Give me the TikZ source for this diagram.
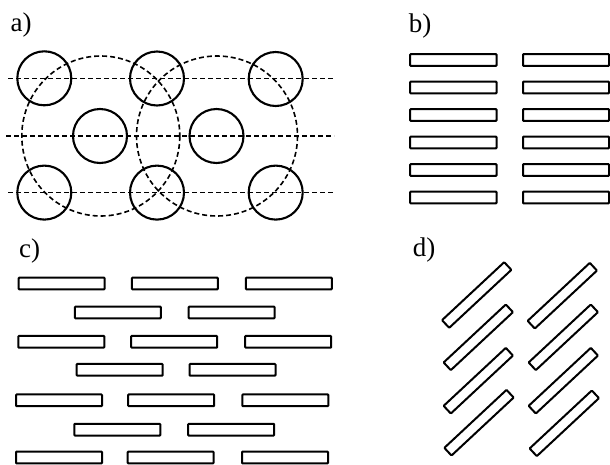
\documentclass[tikz,border=0pt]{standalone}
\usepackage{fontspec}
\setmainfont{Liberation Serif}
\begin{document}
\begin{tikzpicture}[x=1pt,y=-1pt,
  ball/.style={draw,circle,line width=2.1pt,minimum size=54pt,inner sep=0pt},
  guide/.style={line width=1.6pt,dash pattern=on 5pt off 3pt},
  rod/.style={draw,rectangle,line width=2pt,rounded corners=0.8pt,inner sep=0pt,minimum width=86pt,minimum height=11.8pt},
  drod/.style={rod,minimum width=85pt,minimum height=10.5pt,rotate=43},
  lab/.style={font=\fontsize{27}{29}\selectfont,inner sep=0pt}]
\useasboundingbox (0,0) rectangle (610,464);
\clip (0,0) rectangle (610,464);
% labels
\node[lab] (la) at (21,25) {a)};
\node[lab] (lb) at (420,26) {b)};
\node[lab] (lc) at (29.5,251.5) {c)};
\node[lab] (ld) at (424,250) {d)};
% a) dashed guides
\coordinate (h1l) at (8,78.3);  \coordinate (h1r) at (333,78.3);
\coordinate (h2l) at (6,136);   \coordinate (h2r) at (334,136);
\coordinate (h3l) at (8,192.6); \coordinate (h3r) at (333,192.6);
\draw[guide] (h1l) -- (h1r);
\draw[guide] (h2l) -- (h2r);
\draw[guide] (h3l) -- (h3r);
\coordinate (e1) at (100.8,136);
\coordinate (e2) at (217,136);
\draw[guide] (e1) ellipse [x radius=79, y radius=80];
\draw[guide] (e2) ellipse [x radius=80.5, y radius=80];
% a) circles
\node[ball] (a1) at (44.3,78.3) {};
\node[ball] (a2) at (157,78.5) {};
\node[ball] (a3) at (275.7,79) {};
\node[ball] (a4) at (100,136) {};
\node[ball] (a5) at (216.5,136) {};
\node[ball] (a6) at (44.3,192.6) {};
\node[ball] (a7) at (157,192.6) {};
\node[ball] (a8) at (275.7,192.6) {};
% b)
\foreach \i in {0,...,5}{
  \node[rod,minimum width=86.5pt] (bl\i) at (453.3,{60+27.5*\i}) {};
  \node[rod,minimum width=86pt] (br\i) at (566,{60+27.5*\i}) {};
}
% c)
\node[rod] (c11) at (61.7,283.5) {};
\node[rod] (c12) at (174.8,283.5) {};
\node[rod] (c13) at (288.8,283.5) {};
\node[rod] (c21) at (117.8,312.5) {};
\node[rod] (c22) at (231.7,312.5) {};
\node[rod] (c31) at (61.3,341.8) {};
\node[rod] (c32) at (174.2,341.8) {};
\node[rod] (c33) at (288.2,341.8) {};
\node[rod] (c41) at (119.7,369.8) {};
\node[rod] (c42) at (232.5,369.8) {};
\node[rod] (c51) at (59,400.3) {};
\node[rod] (c52) at (171.2,400.3) {};
\node[rod] (c53) at (285.3,400.3) {};
\node[rod] (c61) at (117.3,429.7) {};
\node[rod] (c62) at (231.2,429.7) {};
\node[rod] (c71) at (59,457.5) {};
\node[rod] (c72) at (170.7,457.5) {};
\node[rod] (c73) at (285,457.5) {};
% d)
\node[drod] (d11) at (476.7,295) {};
\node[drod] (d12) at (478.3,337.3) {};
\node[drod] (d13) at (478.3,380.7) {};
\node[drod] (d14) at (479,422.7) {};
\node[drod] (d21) at (562.3,295.7) {};
\node[drod] (d22) at (563.3,337.3) {};
\node[drod] (d23) at (563.3,380.7) {};
\node[drod] (d24) at (564.3,423.3) {};
\end{tikzpicture}
\end{document}
